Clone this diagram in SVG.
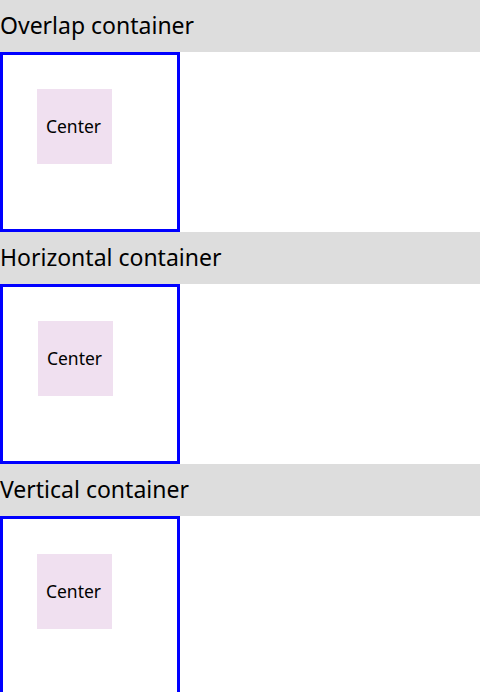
<svg xmlns="http://www.w3.org/2000/svg" width="480" height="692" viewBox="0 0 480 692">
<style>
.hdr{fill:#dddddd}
.htxt{font-family:"Noto Sans","Open Sans",sans-serif;font-size:23px;fill:#000}
.box{fill:#fff;stroke:#0000ff;stroke-width:3}
.ctr{fill:#f0e0f0}
.ctxt{font-family:"Noto Sans","Open Sans",sans-serif;font-size:17.5px;fill:#000;text-anchor:middle}
</style>
<rect width="480" height="692" fill="#fff"/>
<g id="overlap">
<rect class="hdr" x="0" y="0" width="480" height="52"/>
<text class="htxt" x="0" y="34">Overlap container</text>
<rect class="box" x="1.5" y="53.5" width="177" height="177"/>
<g id="center1"><rect class="ctr" x="37" y="89" width="75" height="75"/><text class="ctxt" x="73.5" y="133">Center</text></g>
</g>
<g id="horizontal">
<rect class="hdr" x="0" y="232" width="480" height="52"/>
<text class="htxt" x="0" y="266">Horizontal container</text>
<rect class="box" x="1.5" y="285.5" width="177" height="177"/>
<g id="center2"><rect class="ctr" x="38" y="321" width="75" height="75"/><text class="ctxt" x="74.5" y="365">Center</text></g>
</g>
<g id="vertical">
<rect class="hdr" x="0" y="464" width="480" height="52"/>
<text class="htxt" x="0" y="498">Vertical container</text>
<rect class="box" x="1.5" y="517.5" width="177" height="177"/>
<g id="center3"><rect class="ctr" x="37" y="554" width="75" height="75"/><text class="ctxt" x="73.5" y="598">Center</text></g>
</g>
<g id="connectors"/>
</svg>
